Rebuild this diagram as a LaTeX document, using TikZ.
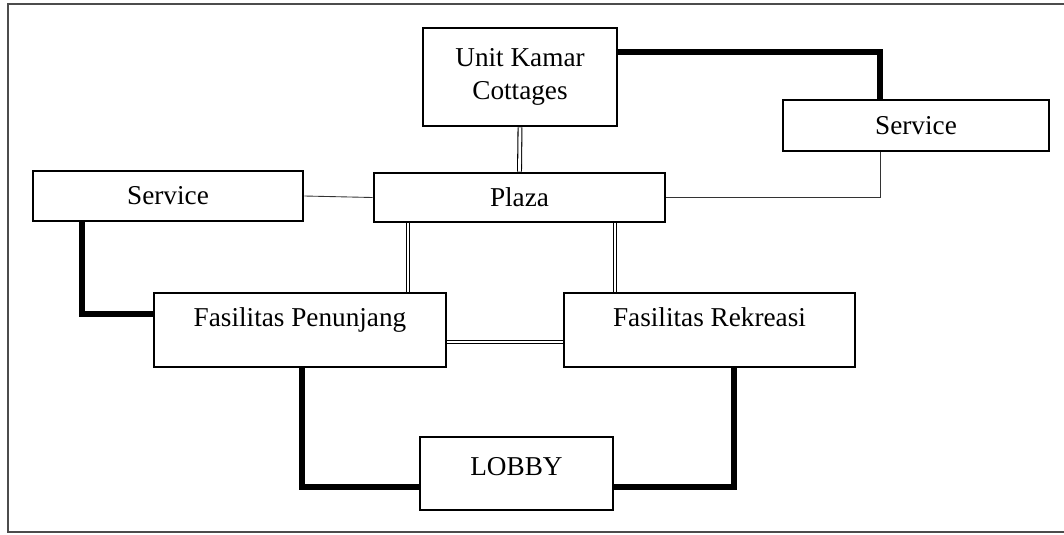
\documentclass[tikz,border=0pt]{standalone}
\usepackage{fontspec}
\setmainfont{Liberation Serif}
\tikzset{
    room/.style={rectangle,draw,line width=1.6pt,fill=white,inner sep=0pt,font=\fontsize{15.5}{19}\selectfont,align=center},
    heavy/.style={-,line width=3pt,draw=black},
    light/.style={-,line width=0.5pt,draw=black!80},
    twin/.style={-,double,double distance=1.6pt,line width=0.6pt,draw=black},
    frame/.style={-,line width=0.6pt,draw=black!70},
}
\begin{document}
\begin{tikzpicture}[x=0.02cm,y=-0.02cm]
\useasboundingbox (0,0) rectangle (1064,534);
\draw[frame] (1064,4) -- (8,4) -- (8,532) -- (1064,532);
\node[room,minimum width=3.88cm,minimum height=1.96cm] (ukc) at (520,77) {Unit Kamar\\Cottages};
\node[room,minimum width=5.32cm,minimum height=1.02cm] (svcr) at (916,125.5) {Service};
\node[room,minimum width=5.82cm,minimum height=0.98cm] (plaza) at (519.5,197.5) {Plaza};
\node[room,minimum width=5.40cm,minimum height=1.00cm] (svcl) at (168,196) {Service};
\node[room,minimum width=5.84cm,minimum height=1.48cm,text depth=0.5cm] (fp) at (300,330) {Fasilitas Penunjang};
\node[room,minimum width=5.82cm,minimum height=1.48cm,text depth=0.5cm] (fr) at (709.5,330) {Fasilitas Rekreasi};
\node[room,minimum width=3.86cm,minimum height=1.46cm,text depth=0.3cm] (lobby) at (516.5,473.5) {LOBBY};
\coordinate (pl) at ([xshift=-2.23cm]plaza.south);
\coordinate (pr) at ([xshift=1.91cm]plaza.south);
\draw[heavy] ([yshift=0.5cm]ukc.east) -| ([xshift=-0.72cm]svcr.north);
\draw[twin] (ukc.south) -- (plaza.north);
\draw[light] (svcl.east) -- (plaza.west);
\draw[light] (plaza.east) -| ([xshift=-0.72cm]svcr.south);
\draw[twin] (pl) -- (pl |- fp.north);
\draw[twin] (pr) -- (pr |- fr.north);
\draw[heavy] ([xshift=-1.72cm]svcl.south) |- ([yshift=0.32cm]fp.west);
\draw[twin] ([yshift=-0.24cm]fp.east) -- ([yshift=-0.24cm]fr.west);
\draw[heavy] ([xshift=0.04cm]fp.south) |- ([yshift=-0.27cm]lobby.west);
\draw[heavy] ([xshift=0.49cm]fr.south) |- ([yshift=-0.27cm]lobby.east);
\end{tikzpicture}
\end{document}
